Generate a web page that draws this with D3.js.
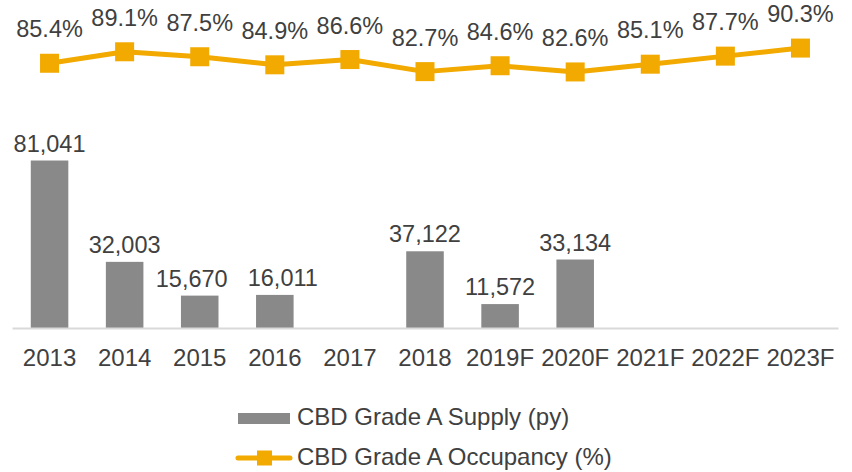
<!doctype html>
<html>
<head>
  <meta charset="utf-8">
  <title>CBD Grade A Supply and Occupancy</title>
  <style>
    body { margin: 0; background: #fff; }
    svg text { font-family: "Liberation Sans", Arial, sans-serif; fill: #404040; }
  </style>
</head>
<body>
  <svg id="chart" width="852" height="472"></svg>

  <script src="https://d3js.org/d3.v7.min.js"></script>
  <script>
    var years = ['2013', '2014', '2015', '2016', '2017', '2018', '2019F', '2020F', '2021F', '2022F', '2023F'];
    var supply = [81041, 32003, 15670, 16011, 0, 37122, 11572, 33134, 0, 0, 0];
    var occupancy = [85.4, 89.1, 87.5, 84.9, 86.6, 82.7, 84.6, 82.6, 85.1, 87.7, 90.3];
    var seriesNames = ['CBD Grade A Supply (py)', 'CBD Grade A Occupancy (%)'];

    var barColor = '#898989';
    var lineColor = '#f2a900';
    var fontSize = 24;
    var labelSize = 23.5;

    // labels that were nudged apart so they don't collide
    var nudge = { '2015': -8, '2016': 8 };

    var svg = d3.select('#chart');

    var x = d3.scaleBand().domain(years).range([12, 838]).padding(0);
    var ySupply = d3.scaleLinear().domain([0, 150000]).range([328, 18]);
    var yOcc = d3.scaleLinear().domain([0, 100]).range([328, 18]);

    var barW = x.bandwidth() * 0.5;
    var cx = function(d) { return x(d) + x.bandwidth() / 2; };

    // bars
    var bars = svg.append('g');
    years.forEach(function(yr, i) {
      if (!supply[i]) return;
      bars.append('rect')
        .attr('x', cx(yr) - barW / 2)
        .attr('y', ySupply(supply[i]))
        .attr('width', barW)
        .attr('height', ySupply(0) - ySupply(supply[i]))
        .attr('fill', barColor);
      bars.append('text')
        .attr('x', cx(yr) + (nudge[yr] || 0))
        .attr('y', ySupply(supply[i]) - 9)
        .attr('text-anchor', 'middle')
        .attr('font-size', labelSize)
        .text(d3.format(',')(supply[i]));
    });

    // x axis
    var xAxis = svg.append('g')
      .attr('transform', 'translate(0,' + ySupply(0) + ')')
      .call(d3.axisBottom(x).tickSize(0).tickPadding(21));
    xAxis.select('.domain').attr('stroke', '#d9d9d9').attr('stroke-width', 2);
    xAxis.selectAll('text')
      .attr('font-size', fontSize)
      .attr('fill', '#404040')
      .style('font-family', '"Liberation Sans", Arial, sans-serif');

    // occupancy line
    var line = d3.line()
      .x(function(d, i) { return cx(years[i]); })
      .y(function(d) { return yOcc(d); });

    svg.append('path')
      .datum(occupancy)
      .attr('d', line)
      .attr('fill', 'none')
      .attr('stroke', lineColor)
      .attr('stroke-width', 5)
      .attr('stroke-linejoin', 'round');

    var m = 19;
    svg.append('g').selectAll('rect')
      .data(occupancy)
      .enter().append('rect')
      .attr('x', function(d, i) { return cx(years[i]) - m / 2; })
      .attr('y', function(d) { return yOcc(d) - m / 2; })
      .attr('width', m)
      .attr('height', m)
      .attr('fill', lineColor);

    svg.append('g').selectAll('text')
      .data(occupancy)
      .enter().append('text')
      .attr('x', function(d, i) { return cx(years[i]); })
      .attr('y', function(d) { return yOcc(d) - 26; })
      .attr('text-anchor', 'middle')
      .attr('font-size', labelSize)
      .text(function(d) { return d.toFixed(1) + '%'; });

    // legend
    var lg = svg.append('g');
    lg.append('rect')
      .attr('x', 238).attr('y', 413)
      .attr('width', 52).attr('height', 11)
      .attr('fill', barColor);
    lg.append('text')
      .attr('x', 297).attr('y', 425)
      .attr('font-size', fontSize)
      .text(seriesNames[0]);

    lg.append('line')
      .attr('x1', 238).attr('x2', 290)
      .attr('y1', 458).attr('y2', 458)
      .attr('stroke', lineColor)
      .attr('stroke-width', 5)
      .attr('stroke-linecap', 'round');
    lg.append('rect')
      .attr('x', 257).attr('y', 450.5)
      .attr('width', 15).attr('height', 15)
      .attr('fill', lineColor);
    lg.append('text')
      .attr('x', 297).attr('y', 465)
      .attr('font-size', fontSize)
      .text(seriesNames[1]);
  </script>
</body>
</html>
